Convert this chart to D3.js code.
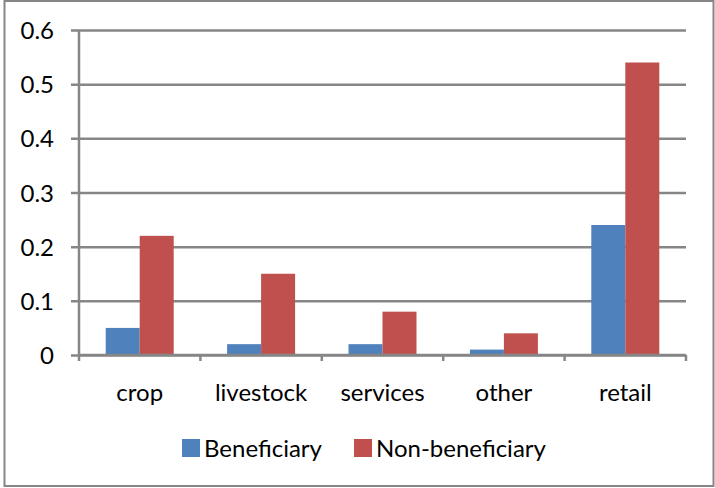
<!DOCTYPE html>
<html>
<head>
<meta charset="utf-8">
<script src="https://cdn.jsdelivr.net/npm/d3@7"></script>
<style>
  html, body { margin: 0; padding: 0; background: #fff; }
  svg { display: block; font-family: Lato, "Noto Sans", sans-serif; }
</style>
</head>
<body>
<svg id="chart" width="715" height="488"></svg>
<script>
// Income shares by activity
const categories = ["crop", "livestock", "services", "other", "retail"];
const seriesNames = ["Beneficiary", "Non-beneficiary"];
const beneficiary = [0.05, 0.02, 0.02, 0.01, 0.24];
const nonBeneficiary = [0.22, 0.15, 0.08, 0.04, 0.54];
const yTicks = [0, 0.1, 0.2, 0.3, 0.4, 0.5, 0.6];
const colors = ["#4F81BD", "#C0504D"];

const svg = d3.select("#chart");
const plot = { left: 79, right: 686, top: 30, bottom: 355 };
const gridColor = "#868686";
const fontSize = 24;

// outer frame
svg.append("rect")
  .attr("x", 4.5).attr("y", 1).attr("width", 709).attr("height", 485)
  .attr("fill", "#fff").attr("stroke", gridColor).attr("stroke-width", 2);

const x0 = d3.scaleBand().domain(categories).range([plot.left, plot.right]).paddingInner(0).paddingOuter(0);
const groupW = 68;
const x1 = d3.scaleBand().domain(seriesNames).range([0, groupW]);
const y = d3.scaleLinear().domain([0, 0.6]).range([plot.bottom, plot.top]);

// horizontal gridlines with left tick stubs
const yAxis = d3.axisLeft(y).tickValues(yTicks)
  .tickSize(-(plot.right - plot.left))
  .tickFormat(d => d === 0 ? "0" : d3.format(".1f")(d))
  .tickPadding(25);
const gy = svg.append("g").attr("transform", `translate(${plot.left},0)`).call(yAxis);
gy.select(".domain").remove();
gy.selectAll(".tick line").attr("stroke", gridColor).attr("stroke-width", 2.5)
  .attr("x1", -8);
gy.selectAll(".tick text").attr("font-size", fontSize).attr("fill", "#000")
  .attr("font-family", "Lato, 'Noto Sans', sans-serif").attr("dy", "0.36em");

// bars
const rows = categories.map((c, i) => ({ cat: c, vals: [beneficiary[i], nonBeneficiary[i]] }));
const groups = svg.append("g").selectAll("g").data(rows).join("g")
  .attr("transform", d => `translate(${x0(d.cat) + (x0.bandwidth() - groupW) / 2},0)`);
groups.selectAll("rect").data(d => d.vals.map((v, k) => ({ v, name: seriesNames[k], k })))
  .join("rect")
  .attr("x", d => x1(d.name))
  .attr("width", x1.bandwidth())
  .attr("y", d => y(d.v))
  .attr("height", d => y(0) - y(d.v))
  .attr("fill", d => colors[d.k]);

// vertical axis line
svg.append("line")
  .attr("x1", plot.left).attr("x2", plot.left)
  .attr("y1", plot.top).attr("y2", plot.bottom + 6)
  .attr("stroke", gridColor).attr("stroke-width", 2.5);

// category axis
const xAxis = d3.axisBottom(x0).tickSize(0).tickPadding(0);
const gx = svg.append("g").attr("transform", `translate(0,${plot.bottom})`).call(xAxis);
gx.select(".domain").remove();
gx.selectAll(".tick line").remove();
gx.selectAll(".tick text").attr("font-size", fontSize).attr("fill", "#000")
  .attr("font-family", "Lato, 'Noto Sans', sans-serif")
  .attr("y", 46).attr("dy", 0);
svg.append("line")
  .attr("x1", plot.left).attr("x2", plot.right)
  .attr("y1", plot.bottom).attr("y2", plot.bottom)
  .attr("stroke", gridColor).attr("stroke-width", 2.5);
// boundary tick marks between categories
const bounds = categories.map(c => x0(c)).concat([plot.right]).slice(1);
svg.append("g").selectAll("line").data(bounds).join("line")
  .attr("x1", d => d).attr("x2", d => d)
  .attr("y1", plot.bottom).attr("y2", plot.bottom + 6)
  .attr("stroke", gridColor).attr("stroke-width", 2.5);

// legend
const legendItems = [
  { name: seriesNames[0], color: colors[0], x: 182 },
  { name: seriesNames[1], color: colors[1], x: 354 }
];
const lg = svg.append("g").selectAll("g").data(legendItems).join("g")
  .attr("transform", d => `translate(${d.x},439)`);
lg.append("rect").attr("width", 18).attr("height", 18).attr("fill", d => d.color);
lg.append("text").attr("x", 22).attr("y", 18).attr("font-size", fontSize)
  .attr("fill", "#000").text(d => d.name);
</script>
</body>
</html>
